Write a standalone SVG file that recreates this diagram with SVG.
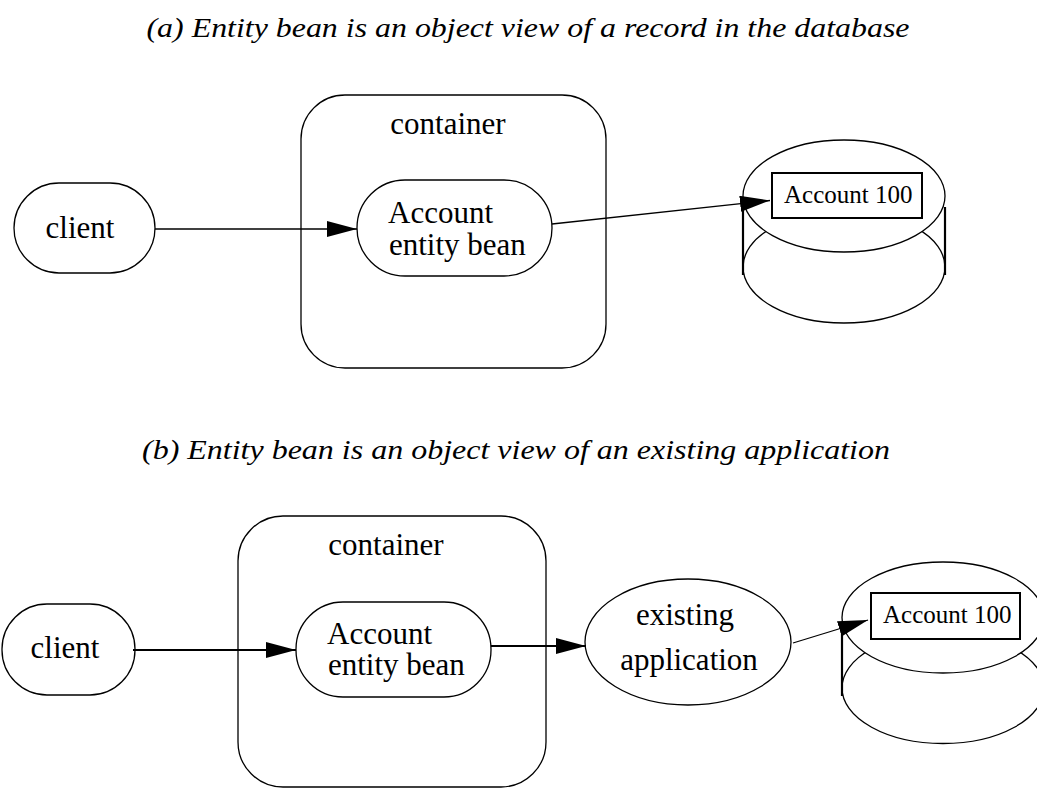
<svg xmlns="http://www.w3.org/2000/svg" width="1037" height="788" viewBox="0 0 1037 788">
<defs>
<style>
.t{font-family:"Liberation Serif","Times New Roman",serif;font-size:31px;fill:#000}
.title{font-family:"Liberation Serif","Times New Roman",serif;font-size:28px;font-style:italic;fill:#000}
.s{fill:#fff;stroke:#000;stroke-width:1.3}
.db{font-family:"Liberation Serif","Times New Roman",serif;font-size:25px;fill:#000}
.edge{fill:none;stroke:#000;stroke-width:1.3}
.edge2{fill:none;stroke:#000;stroke-width:2}
.side{stroke:#000;stroke-width:2.2}
</style>
<marker id="ah" markerUnits="userSpaceOnUse" markerWidth="32" markerHeight="18" refX="30" refY="8" orient="auto" viewBox="0 0 32 18">
<path d="M0,0 L30,8 L0,16 z" fill="#000"/>
</marker>
</defs>
<rect width="1037" height="788" fill="#fff"/>

<g id="title-a"><text class="title" x="528" y="37" text-anchor="middle" textLength="763" lengthAdjust="spacingAndGlyphs">(a) Entity bean is an object view of a record in the database</text></g>

<g id="container-a">
<rect class="s" x="301" y="95" width="305" height="273" rx="44" ry="44"/>
<text class="t" x="448" y="134" text-anchor="middle">container</text>
</g>
<g id="client-a">
<rect class="s" x="14" y="183" width="141" height="90" rx="45" ry="45"/>
<text class="t" x="80" y="238" text-anchor="middle">client</text>
</g>
<g id="bean-a">
<rect class="s" x="357" y="180" width="195" height="96" rx="48" ry="48"/>
<text class="t" x="388" y="223">Account</text>
<text class="t" x="389" y="255">entity bean</text>
</g>
<g id="db-a">
<ellipse class="s" cx="844" cy="267" rx="101" ry="56"/>
<ellipse class="s" cx="844" cy="196" rx="101" ry="56"/>
<line class="side" x1="743" y1="207" x2="743" y2="275"/>
<line class="side" x1="945" y1="207" x2="945" y2="275"/>
<rect x="772" y="173" width="150" height="45" fill="#fff" stroke="#000" stroke-width="2"/>
<text class="db" x="784" y="203">Account 100</text>
</g>

<g id="title-b"><text class="title" x="516" y="459" text-anchor="middle" textLength="748" lengthAdjust="spacingAndGlyphs">(b) Entity bean is an object view of an existing application</text></g>

<g id="container-b">
<rect class="s" x="238" y="516" width="308" height="271" rx="45" ry="45"/>
<text class="t" x="386" y="555" text-anchor="middle">container</text>
</g>
<g id="client-b">
<rect class="s" x="2" y="604" width="133" height="91" rx="45" ry="45"/>
<text class="t" x="65" y="658" text-anchor="middle">client</text>
</g>
<g id="bean-b">
<rect class="s" x="296" y="602" width="195" height="95" rx="47" ry="47"/>
<text class="t" x="327" y="644">Account</text>
<text class="t" x="328" y="675">entity bean</text>
</g>
<g id="app-b">
<ellipse class="s" cx="688" cy="642" rx="103" ry="63"/>
<text class="t" x="685" y="625" text-anchor="middle">existing</text>
<text class="t" x="689" y="670" text-anchor="middle">application</text>
</g>
<g id="db-b">
<ellipse class="s" cx="943" cy="688" rx="101" ry="55.5"/>
<ellipse class="s" cx="943" cy="617.5" rx="101" ry="55.5"/>
<line class="side" x1="842" y1="622" x2="842" y2="696"/>
<rect x="871" y="593" width="149" height="46" fill="#fff" stroke="#000" stroke-width="2"/>
<text class="db" x="883" y="623">Account 100</text>
</g>

<g id="connectors">
<line class="edge" x1="155" y1="229" x2="357" y2="229" marker-end="url(#ah)"/>
<line class="edge" x1="552" y1="224" x2="770" y2="200.5" marker-end="url(#ah)"/>
<line class="edge2" x1="133" y1="650" x2="296" y2="650" marker-end="url(#ah)"/>
<line class="edge2" x1="491" y1="646" x2="586" y2="646" marker-end="url(#ah)"/>
<line class="edge" x1="793" y1="643" x2="868" y2="620" marker-end="url(#ah)"/>
</g>
</svg>
